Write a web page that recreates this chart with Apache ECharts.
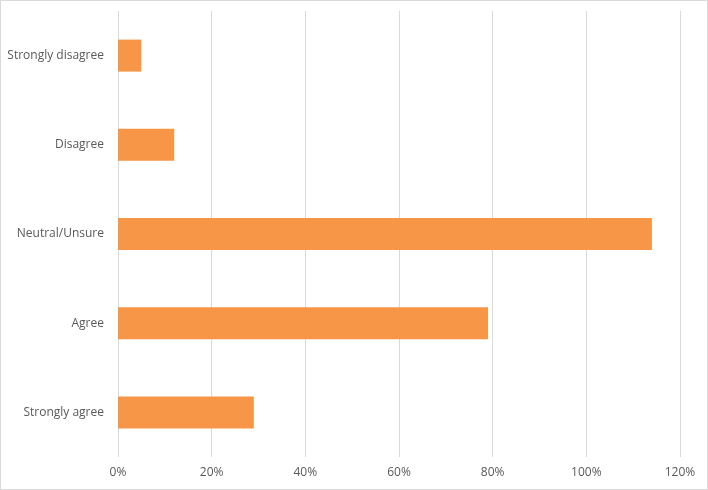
<!DOCTYPE html>
<html>
<head>
<meta charset="utf-8">
<script src="https://cdn.jsdelivr.net/npm/echarts@6/dist/echarts.min.js"></script>
<style>
html,body{margin:0;padding:0;background:#fff;}
#c{width:708px;height:490px;}
</style>
</head>
<body>
<div id="c"></div>
<script>
var categories = ["Strongly agree", "Agree", "Neutral/Unsure", "Disagree", "Strongly disagree"];
var values = [29, 79, 114, 12, 5];
var xMin = 0, xMax = 120, xStep = 20;

var chart = echarts.init(document.getElementById('c'), null, {renderer: 'canvas'});
chart.setOption({
  animation: false,
  backgroundColor: '#ffffff',
  graphic: [{
    type: 'rect',
    shape: {x: 0.5, y: 0.5, width: 707, height: 489},
    style: {fill: 'none', stroke: '#d9d9d9', lineWidth: 1},
    silent: true
  }],
  grid: {left: 118, right: 28, top: 11, bottom: 33, containLabel: false},
  xAxis: {
    type: 'value',
    min: xMin, max: xMax, interval: xStep,
    axisLine: {show: false},
    axisTick: {show: false},
    splitLine: {show: true, lineStyle: {color: '#d9d9d9', width: 1}},
    axisLabel: {
      formatter: function (v) { return v + '%'; },
      color: '#595959', fontSize: 12, fontFamily: 'Open Sans, Liberation Sans, sans-serif',
      margin: 10
    }
  },
  yAxis: {
    type: 'category',
    data: categories,
    axisLine: {show: false},
    axisTick: {show: false},
    splitLine: {show: false},
    axisLabel: {
      color: '#595959', fontSize: 12, fontFamily: 'Open Sans, Liberation Sans, sans-serif',
      margin: 14
    }
  },
  series: [{
    type: 'bar',
    data: values,
    barWidth: 32,
    itemStyle: {color: '#F79646'}
  }]
});
</script>
</body>
</html>
